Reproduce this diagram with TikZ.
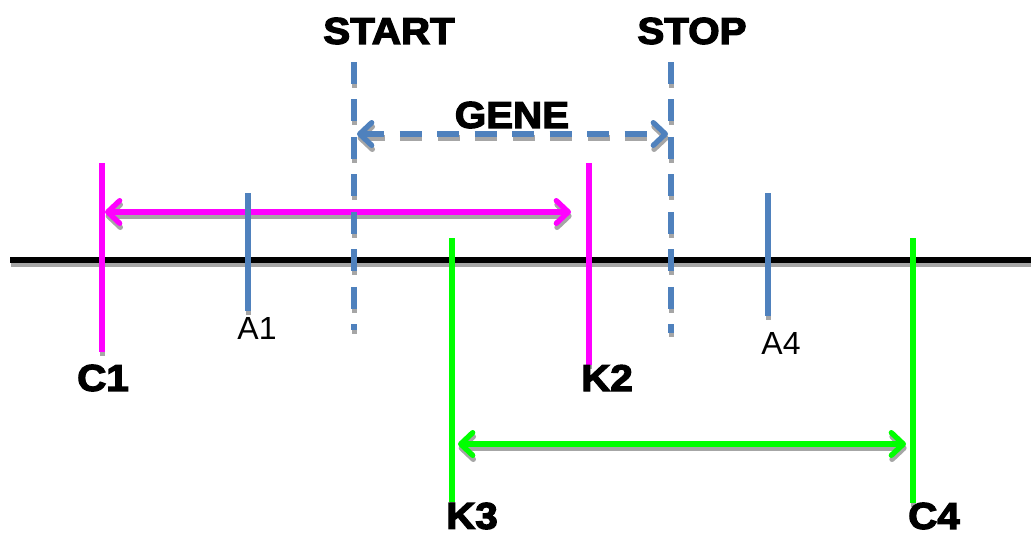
\documentclass[tikz,border=0pt]{standalone}
\usepackage{fontspec}
\setmainfont{Liberation Sans}
\newfontfamily\heavy[BoldFeatures={FakeBold=3.5,FakeStretch=1.08}]{Liberation Sans}
\usetikzlibrary{arrows.meta}
\definecolor{genblue}{HTML}{4F81BD}
\definecolor{mag}{HTML}{FF00FF}
\definecolor{grn}{HTML}{00FF00}
\definecolor{shgray}{HTML}{A6A6A6}
\begin{document}
\begin{tikzpicture}[x=0.75pt,y=-0.75pt,
  lab/.style={font=\heavy\bfseries\fontsize{28}{30}\selectfont, inner sep=0pt},
  smalllab/.style={font=\fontsize{24}{26}\selectfont, inner sep=0pt},
  ln/.style={line width=4pt},
  dsh/.style={line width=4pt, dash pattern=on 16.5pt off 11.6pt},
  tips/.style={{Straight Barb[length=9pt,width=17pt,line cap=round,line join=round]}-{Straight Barb[length=9pt,width=17pt,line cap=round,line join=round]}},
]
\useasboundingbox (0,0) rectangle (1031,536);
% coordinates
\coordinate (hl) at (10,260);   \coordinate (hr) at (1031,260);
\coordinate (c1t) at (102,163); \coordinate (c1b) at (102,352);
\coordinate (k2t) at (589,163); \coordinate (k2b) at (589,365);
\coordinate (ma1) at (105,212); \coordinate (ma2) at (571,212);
\coordinate (a1t) at (248,193); \coordinate (a1b) at (248,311);
\coordinate (a4t) at (768,193); \coordinate (a4b) at (768,316);
\coordinate (st) at (354,62);   \coordinate (sb) at (354,330);
\coordinate (pt) at (671,62);   \coordinate (pb) at (671,333);
\coordinate (g1) at (357,134);  \coordinate (g2) at (668,134);
\coordinate (k3t) at (452,238); \coordinate (k3b) at (452,502);
\coordinate (c4t) at (913,238); \coordinate (c4b) at (913,503);
\coordinate (ga1) at (458,444); \coordinate (ga2) at (906,444);
% shadows
\begin{scope}[transform canvas={shift={(0.5pt,-3pt)}}, draw=shgray, color=shgray]
  \draw[ln] (hl) -- (hr);
  \draw[ln] (c1t) -- (c1b);
  \draw[ln] (k2t) -- (k2b);
  \draw[ln, tips] (ma1) -- (ma2);
  \draw[ln] (a1t) -- (a1b);
  \draw[ln] (a4t) -- (a4b);
  \draw[dsh] (st) -- (sb);
  \draw[dsh] (pt) -- (pb);
  \draw[dsh, tips] (g1) -- (g2);
  \draw[ln] (k3t) -- (k3b);
  \draw[ln] (c4t) -- (c4b);
  \draw[ln, tips] (ga1) -- (ga2);
\end{scope}
% main lines
\draw[ln, black] (hl) -- (hr);
\draw[ln, tips, mag] (ma1) -- (ma2);
\draw[ln, mag] (c1t) -- (c1b);
\draw[ln, mag] (k2t) -- (k2b);
\draw[ln, genblue] (a1t) -- (a1b);
\draw[ln, genblue] (a4t) -- (a4b);
\draw[dsh, genblue] (st) -- (sb);
\draw[dsh, genblue] (pt) -- (pb);
\draw[dsh, tips, genblue] (g1) -- (g2);
\draw[ln, grn] (k3t) -- (k3b);
\draw[ln, grn] (c4t) -- (c4b);
\draw[ln, tips, grn] (ga1) -- (ga2);
% labels
\node[lab] (start) at (389,31) {START};
\node[lab] (stop) at (692,31) {STOP};
\node[lab] (gene) at (512,115) {GENE};
\node[lab] (c1) at (103,378) {C1};
\node[lab] (k2) at (607,378) {K2};
\node[lab] (k3) at (472,516) {K3};
\node[lab] (c4) at (934,516) {C4};
\node[smalllab] (a1) at (257,328) {A1};
\node[smalllab] (a4) at (781,343) {A4};
\end{tikzpicture}
\end{document}
